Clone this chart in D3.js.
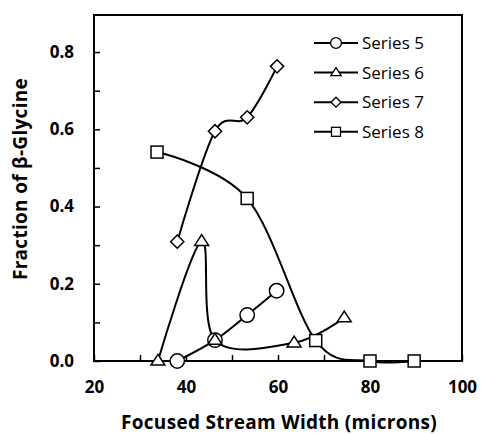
<!DOCTYPE html>
<html>
<head>
<meta charset="utf-8">
<script src="https://cdn.jsdelivr.net/npm/d3@7"></script>
<style>
  body { margin: 0; background: #fff; }
  text { font-family: "Open Sans", sans-serif; fill: #000; }
</style>
</head>
<body>
<div id="chart"></div>
<script>
var seriesNames = ["Series 5", "Series 6", "Series 7", "Series 8"];
var series5 = [[38.1, 0.0], [46.3, 0.054], [53.3, 0.119], [59.7, 0.182]];
var series6 = [[33.9, 0.0], [43.4, 0.31], [46.3, 0.054], [63.5, 0.047], [74.4, 0.112]];
var series7 = [[38.1, 0.309], [46.3, 0.595], [53.3, 0.631], [59.8, 0.763]];
var series8 = [[33.7, 0.541], [53.3, 0.421], [68.2, 0.053], [80.0, 0.0], [89.6, 0.0]];
var xTicks = [20, 40, 60, 80, 100];
var yTicks = [0, 0.2, 0.4, 0.6, 0.8];
var markers = ["circle", "triangle", "diamond", "square"];

var margin = {top: 15, right: 19, bottom: 73, left: 94},
    width = 481 - margin.left - margin.right,
    height = 434 - margin.top - margin.bottom;

var svg = d3.select("#chart")
            .append("svg")
              .attr("width", 481)
              .attr("height", 434);

var chart = svg.append("g")
               .attr("transform", "translate(" + margin.left + "," + margin.top + ")");

var x = d3.scaleLinear().domain([20, 100]).range([0, width]);
var y = d3.scaleLinear().domain([0, 0.896]).range([height, 0]);

// minor ticks (inside)
chart.append("g")
     .attr("transform", "translate(0," + height + ")")
     .call(d3.axisTop(x).tickValues(d3.range(30, 100, 20)).tickSize(6).tickFormat(""))
     .call(function(g) { g.select(".domain").remove(); g.selectAll("line").attr("stroke-width", 1.5); });
chart.append("g")
     .call(d3.axisRight(y).tickValues(d3.range(0.1, 0.9, 0.2)).tickSize(6).tickFormat(""))
     .call(function(g) { g.select(".domain").remove(); g.selectAll("line").attr("stroke-width", 1.5); });

// major axes
var xAxis = chart.append("g")
     .attr("transform", "translate(0," + height + ")")
     .call(d3.axisBottom(x).tickValues(xTicks).tickSize(-6).tickPadding(20));
xAxis.select(".domain").remove();
xAxis.selectAll("line").attr("stroke-width", 1.5);
xAxis.selectAll("text").style("font-size", "17px").style("font-weight", "bold");

var yAxis = chart.append("g")
     .call(d3.axisLeft(y).tickValues(yTicks).tickSize(-6).tickPadding(20).tickFormat(d3.format(".1f")));
yAxis.select(".domain").remove();
yAxis.selectAll("line").attr("stroke-width", 1.5);
yAxis.selectAll("text").style("font-size", "17px").style("font-weight", "bold");

// frame
chart.append("rect")
     .attr("width", width)
     .attr("height", height)
     .attr("fill", "none")
     .attr("stroke", "#000")
     .attr("stroke-width", 2);

// titles
svg.append("text")
   .attr("x", 279)
   .attr("y", 429)
   .attr("text-anchor", "middle")
   .style("font-size", "19px")
   .style("letter-spacing", "0.3px")
   .style("font-weight", "bold")
   .text("Focused Stream Width (microns)");

svg.append("text")
   .attr("transform", "translate(27,179) rotate(-90)")
   .attr("text-anchor", "middle")
   .style("font-size", "19px")
   .style("letter-spacing", "0.3px")
   .style("font-weight", "bold")
   .text("Fraction of β-Glycine");

// series
var allSeries = [series5, series6, series7, series8];

var line = d3.line()
             .x(function(d) { return x(d[0]); })
             .y(function(d) { return y(d[1]); })
             .curve(d3.curveCardinal.tension(0));

function drawMarker(g, type, cx, cy, s) {
  if (type === "circle") {
    g.append("circle").attr("cx", cx).attr("cy", cy).attr("r", s * 0.6);
  }
  else if (type === "square") {
    g.append("rect").attr("x", cx - s / 2).attr("y", cy - s / 2).attr("width", s).attr("height", s);
  }
  else if (type === "triangle") {
    var h = s * 0.9;
    g.append("path").attr("d", "M" + cx + "," + (cy - h * 0.62) + "L" + (cx + s * 0.58) + "," + (cy + h * 0.38) + "L" + (cx - s * 0.58) + "," + (cy + h * 0.38) + "Z");
  }
  else {
    var r = s * 0.55;
    g.append("path").attr("d", "M" + cx + "," + (cy - r) + "L" + (cx + r) + "," + cy + "L" + cx + "," + (cy + r) + "L" + (cx - r) + "," + cy + "Z");
  }
}

allSeries.forEach(function(data, i) {
  chart.append("path")
       .datum(data)
       .attr("d", line)
       .attr("fill", "none")
       .attr("stroke", "#000")
       .attr("stroke-width", 2);
});

allSeries.forEach(function(data, i) {
  var g = chart.append("g")
               .attr("fill", "#fff")
               .attr("stroke", "#000")
               .attr("stroke-width", 1.5);
  data.forEach(function(d) {
    drawMarker(g, markers[i], x(d[0]), y(d[1]), 12);
  });
});

// legend
var legend = svg.append("g").attr("transform", "translate(314,43)");
seriesNames.forEach(function(name, i) {
  var row = legend.append("g").attr("transform", "translate(0," + (i * 29.6) + ")");
  row.append("line")
     .attr("x1", 0).attr("x2", 44)
     .attr("stroke", "#000").attr("stroke-width", 2);
  var mg = row.append("g").attr("fill", "#fff").attr("stroke", "#000").attr("stroke-width", 1.3);
  drawMarker(mg, markers[i], 22, 0, 9);
  row.append("text")
     .attr("x", 48)
     .attr("dy", "0.35em")
     .style("font-size", "17px")
     .text(name);
});
</script>
</body>
</html>
